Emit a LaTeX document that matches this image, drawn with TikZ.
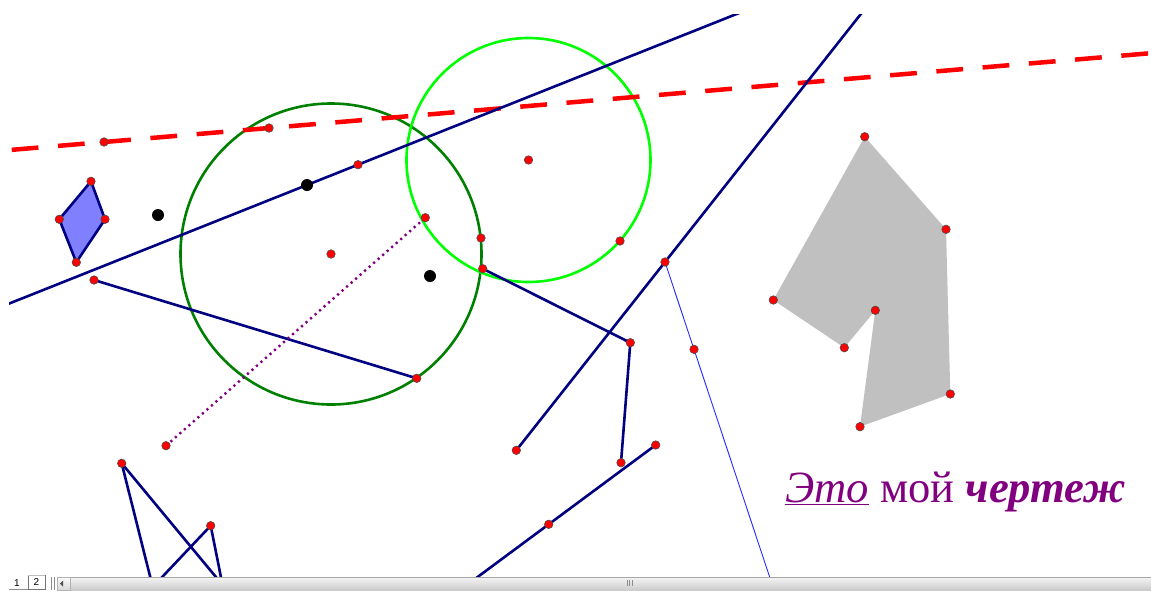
\documentclass[tikz,border=0pt]{standalone}
\usepackage{fontspec}
\setmainfont{Liberation Serif}
\newfontfamily\uifont{Liberation Sans}
\usetikzlibrary{calc}
\definecolor{navy}{RGB}{0,0,128}
\definecolor{dgreen}{RGB}{0,128,0}
\definecolor{lgreen}{RGB}{0,255,0}
\definecolor{purp}{RGB}{128,0,128}
\definecolor{rhombfill}{RGB}{128,128,255}
\definecolor{polyfill}{RGB}{192,192,192}
\definecolor{thinblue}{RGB}{40,40,255}
\tikzset{
  redpt/.style={circle, fill=red, draw=black!70, line width=0.6pt, inner sep=0pt, minimum size=8.5pt},
  blackpt/.style={circle, fill=black, inner sep=0pt, minimum size=12pt},
  navyline/.style={draw=navy, line width=2.6pt},
  circ/.style={line width=2.6pt},
  redline/.style={draw=red, line width=4.5pt, dash pattern=on 26.8pt off 19.6pt},
  dotline/.style={draw=purp, line width=2.4pt, dash pattern=on 2.2pt off 3.8pt},
  thinline/.style={draw=thinblue, line width=0.9pt},
  tabtext/.style={font=\uifont\fontsize{10}{10}\selectfont, inner sep=0pt}
}
\begin{document}
\begin{tikzpicture}[x=1pt,y=-1pt]
\useasboundingbox[fill=white] (0,0) rectangle (1151,590);
% points
\coordinate (P1) at (104,142);
\coordinate (P2) at (269,128);
\coordinate (B1) at (307,185);
\coordinate (B2) at (358,164.7);
\coordinate (B3) at (158,215);
\coordinate (B4) at (430,276);
\coordinate (C1) at (331,254);
\coordinate (C2) at (528.5,160);
\coordinate (O1) at (481,238);
\coordinate (O2) at (425.3,217.7);
\coordinate (O3) at (482.7,268.7);
\coordinate (O4) at (620,241);
\coordinate (R1) at (91,181.3);
\coordinate (R2) at (105,219.3);
\coordinate (R3) at (76.3,262.3);
\coordinate (R4) at (59.3,219.3);
\coordinate (Q1) at (94,280);
\coordinate (Q2) at (416.7,378.3);
\coordinate (D1) at (166,445.7);
\coordinate (S1) at (630.3,342.7);
\coordinate (S2) at (621,462.7);
\coordinate (E) at (516.3,450.3);
\coordinate (F) at (665,262);
\coordinate (G) at (694,349.3);
\coordinate (H) at (655.7,445);
\coordinate (I) at (548.7,524.3);
\coordinate (J) at (121.7,463.3);
\coordinate (K) at (210.7,525.7);
\coordinate (J1) at (156,600);
\coordinate (J2) at (235,600);
\coordinate (K1) at (140.4,600);
\coordinate (K2) at (225.5,600);
\coordinate (G1) at (864.7,136.7);
\coordinate (G2) at (946,229.3);
\coordinate (G3) at (950.3,394);
\coordinate (G4) at (860,426.7);
\coordinate (G5) at (875.3,310.3);
\coordinate (G6) at (844.3,347.7);
\coordinate (G7) at (773.3,300);

\begin{scope}
\clip (9,14) rectangle (1151,577);
% polygons
\fill[polyfill] (G1) -- (G2) -- (G3) -- (G4) -- (G5) -- (G6) -- (G7) -- cycle;
\filldraw[fill=rhombfill, navyline, line join=round] (R1) -- (R2) -- (R3) -- (R4) -- cycle;
% circles
\draw[circ, dgreen] (C1) circle[radius=150.5];
\draw[circ, lgreen] (C2) circle[radius=122];
% lines
\draw[redline] ($(P1)!-0.5594!(P2)$) -- ($(P1)!7.5!(P2)$);
\draw[navyline] ($(B1)!-6!(B2)$) -- ($(B1)!10!(B2)$);
\draw[navyline] (E) -- ($(E)!3!(F)$);
\draw[thinline] (F) -- ($(F)!4!(G)$);
\draw[navyline] (H) -- ($(H)!2.5!(I)$);
\draw[navyline] (Q1) -- (Q2);
\draw[dotline] (D1) -- (O2);
\draw[navyline, line join=round] (O3) -- (S1) -- (S2);
\draw[navyline] (J) -- (J1);
\draw[navyline] (J) -- (J2);
\draw[navyline] (K) -- (K1);
\draw[navyline] (K) -- (K2);
\end{scope}

% point markers
\foreach \p in {P1,P2,B2,C1,C2,O1,O2,O3,O4,R1,R2,R3,R4,Q1,Q2,D1,S1,S2,E,F,G,H,I,J,K,G1,G2,G3,G4,G5,G6,G7}
  \node[redpt] (m\p) at (\p) {};
\foreach \p in {B1,B3,B4}
  \node[blackpt] (m\p) at (\p) {};

% caption
\node[anchor=base west, text=purp, font=\fontsize{44.6}{50}\selectfont, inner sep=0pt] (caption) at (785,502)
  {\underline{\itshape Это} мой \textbf{\textit{чертеж}}};

% bottom bar
\shade[top color=black!4, bottom color=black!20] (71,577) rectangle (1151,590);
\draw[black!35, line width=0.8pt] (71,577) -- (1151,577);
\draw[black!45, line width=0.6pt] (627,580) -- (627,586) (629.5,580) -- (629.5,586) (632,580) -- (632,586);
\shade[top color=black!2, bottom color=black!15] (57,577) rectangle (70,590);
\draw[black!30, line width=0.6pt] (57,577) rectangle (70,590);
\fill[black!70] (60,583.5) -- (63,580.5) -- (63,586.5) -- cycle;
\draw[black!45, line width=0.8pt] (51,577) -- (51,590) (54,577) -- (54,590);
\draw[black!55, line width=0.8pt] (28,575) -- (28,589) -- (45,589) -- (45,575);
\draw[black!25, line width=0.6pt] (28,575) -- (45,575);
\node[tabtext] (tab1) at (17,583) {1};
\node[tabtext] (tab2) at (36.5,582) {2};
\draw[black!45, line width=0.6pt] (9,589.5) -- (28,589.5);
\end{tikzpicture}
\end{document}
